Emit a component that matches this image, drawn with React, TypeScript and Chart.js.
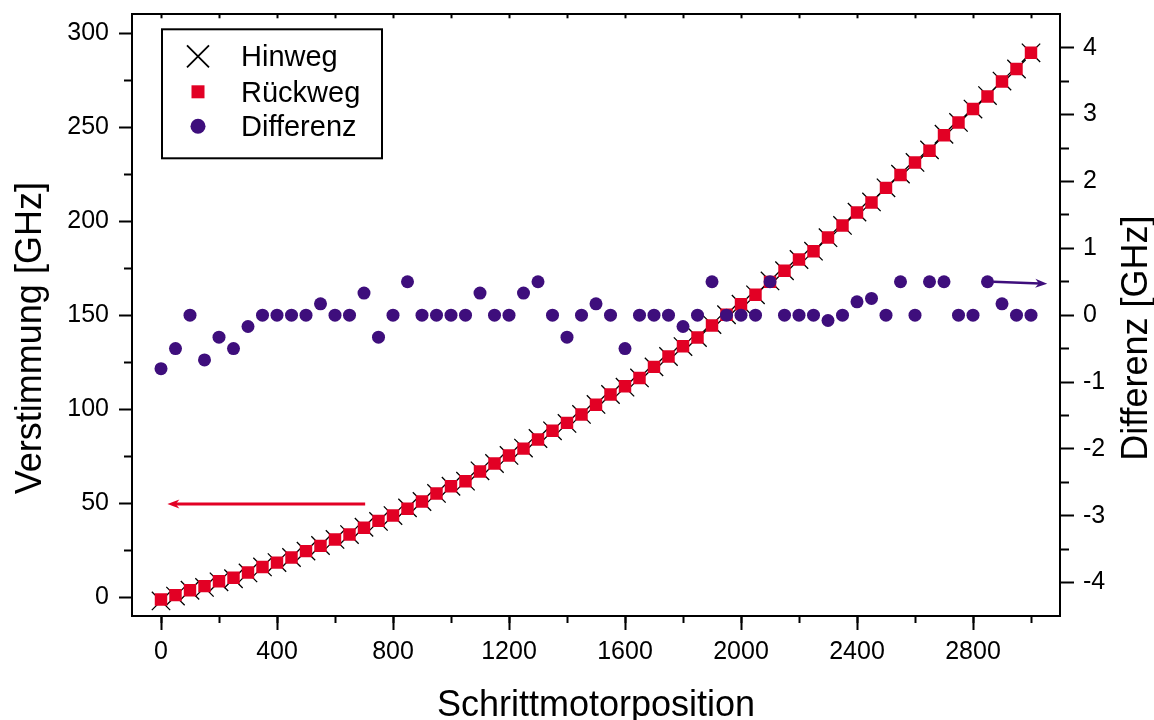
import { useEffect, useRef } from "react";
import { Chart, registerables } from "chart.js";

Chart.register(...registerables);

// Stepper motor positions (steps)
const positions = [
  0, 50, 100, 150, 200, 250, 300, 350, 400, 450, 500, 550, 600, 650, 700, 750,
  800, 850, 900, 950, 1000, 1050, 1100, 1150, 1200, 1250, 1300, 1350, 1400, 1450,
  1500, 1550, 1600, 1650, 1700, 1750, 1800, 1850, 1900, 1950, 2000, 2050, 2100,
  2150, 2200, 2250, 2300, 2350, 2400, 2450, 2500, 2550, 2600, 2650, 2700, 2750,
  2800, 2850, 2900, 2950, 3000,
];

// Detuning on the forward pass [GHz]
const hinweg = [
  -2.0, 0.6, 3.7, 5.2, 8.2, 9.8, 12.9, 16.1, 18.4, 21.1, 24.5, 27.5, 30.7, 33.3,
  37.2, 40.3, 43.4, 47.5, 50.9, 55.2, 59.0, 61.7, 67.2, 71.1, 75.4, 79.3, 84.4,
  88.5, 92.4, 97.2, 102.5, 107.8, 111.7, 116.6, 122.5, 128.0, 133.3, 138.1, 145.0,
  150.2, 155.8, 160.8, 168.2, 173.6, 179.6, 184.0, 191.2, 197.7, 204.8, 210.2,
  217.7, 225.0, 231.2, 237.9, 246.2, 252.5, 259.6, 266.8, 274.5, 280.9, 289.5,
];

// Detuning on the return pass [GHz]
const rueckweg = [
  -1.2, 1.1, 3.7, 5.9, 8.5, 10.3, 13.1, 16.1, 18.4, 21.1, 24.5, 27.3, 30.7, 33.3,
  36.9, 40.6, 43.4, 47.0, 50.9, 55.2, 59.0, 61.7, 66.9, 71.1, 75.4, 79.0, 83.9,
  88.5, 92.7, 97.2, 102.3, 107.8, 112.2, 116.6, 122.5, 128.0, 133.5, 138.1, 144.5,
  150.2, 155.8, 160.8, 167.7, 173.6, 179.6, 184.0, 191.3, 197.7, 204.6, 209.9,
  217.7, 224.5, 231.2, 237.4, 245.7, 252.5, 259.6, 266.3, 274.3, 280.9, 289.5,
];

// Difference between both passes [GHz]
const differenz = [
  -0.8, -0.5, 0, -0.67, -0.33, -0.5, -0.17, 0, 0, 0, 0, 0.17, 0, 0, 0.33, -0.33,
  0, 0.5, 0, 0, 0, 0, 0.33, 0, 0, 0.33, 0.5, 0, -0.33, 0, 0.17, 0, -0.5, 0, 0, 0,
  -0.17, 0, 0.5, 0, 0, 0, 0.5, 0, 0, 0, -0.08, 0, 0.2, 0.25, 0, 0.5, 0, 0.5, 0.5,
  0, 0, 0.5, 0.17, 0, 0,
];

// Axis ticks
const xMajorTicks = [0, 400, 800, 1200, 1600, 2000, 2400, 2800];
const xMinorTicks = [0, 200, 400, 600, 800, 1000, 1200, 1400, 1600, 1800, 2000, 2200, 2400, 2600, 2800, 3000];
const yMajorTicks = [0, 50, 100, 150, 200, 250, 300];
const yMinorTicks = [25, 75, 125, 175, 225, 275];
const y1MajorTicks = [-4, -3, -2, -1, 0, 1, 2, 3, 4];
const y1MinorTicks = [-3.5, -2.5, -1.5, -0.5, 0.5, 1.5, 2.5, 3.5];

const RED = "rgb(226,0,36)";
const PURPLE = "rgb(62,14,124)";
const FONT = "'Liberation Sans', Arial, Helvetica, sans-serif";

// Direction arrows pointing to the axis each series belongs to
const arrowLeft = { axis: "y", x0: 704, y0: 49.6, x1: 22, y1: 49.6, color: RED, width: 3 };
const arrowRight = { axis: "y1", x0: 2870, y0: 0.5, x1: 3056, y1: 0.47, color: PURPLE, width: 2.5 };

function fixedTicks(values: number[]) {
  return (scale: any) => {
    scale.ticks = values.map((v) => ({ value: v }));
  };
}

function fitSize(prop: "width" | "height", size: number) {
  return (scale: any) => {
    scale[prop] = size;
    scale.paddingTop = 0;
    scale.paddingBottom = 0;
    scale.paddingLeft = 0;
    scale.paddingRight = 0;
  };
}

function drawArrow(chart: any, a: any) {
  const ctx = chart.ctx;
  const xs = chart.scales.x;
  const ys = chart.scales[a.axis];
  const px0 = xs.getPixelForValue(a.x0);
  const py0 = ys.getPixelForValue(a.y0);
  const px1 = xs.getPixelForValue(a.x1);
  const py1 = ys.getPixelForValue(a.y1);
  const ang = Math.atan2(py1 - py0, px1 - px0);
  const headLen = 12;
  const headHalf = 4.5;
  ctx.save();
  ctx.strokeStyle = a.color;
  ctx.fillStyle = a.color;
  ctx.lineWidth = a.width;
  ctx.beginPath();
  ctx.moveTo(px0, py0);
  ctx.lineTo(px1 - Math.cos(ang) * headLen * 0.6, py1 - Math.sin(ang) * headLen * 0.6);
  ctx.stroke();
  ctx.translate(px1, py1);
  ctx.rotate(ang);
  ctx.beginPath();
  ctx.moveTo(0, 0);
  ctx.lineTo(-headLen, -headHalf);
  ctx.lineTo(-headLen * 0.7, 0);
  ctx.lineTo(-headLen, headHalf);
  ctx.closePath();
  ctx.fill();
  ctx.restore();
}

const annotationsPlugin = {
  id: "annotations",
  afterDatasetsDraw(chart: any) {
    drawArrow(chart, arrowLeft);
    drawArrow(chart, arrowRight);

    // Framed legend in the upper left corner of the plot
    const ctx = chart.ctx;
    const { left, top } = chart.chartArea;
    const bx = left + 30;
    const by = top + 15;
    ctx.save();
    ctx.fillStyle = "#fff";
    ctx.fillRect(bx, by, 220, 129);
    ctx.strokeStyle = "#000";
    ctx.lineWidth = 2;
    ctx.strokeRect(bx, by, 220, 129);

    const mx = bx + 36;
    const rows = [by + 27, by + 62.5, by + 97];
    const labels = chart.data.datasets.map((d: any) => d.label);

    // cross
    ctx.lineWidth = 1.8;
    ctx.strokeStyle = "#000";
    ctx.beginPath();
    ctx.moveTo(mx - 11, rows[0] - 11);
    ctx.lineTo(mx + 11, rows[0] + 11);
    ctx.moveTo(mx + 11, rows[0] - 11);
    ctx.lineTo(mx - 11, rows[0] + 11);
    ctx.stroke();
    // square
    ctx.fillStyle = RED;
    ctx.fillRect(mx - 6.5, rows[1] - 6.5, 13, 13);
    // circle
    ctx.fillStyle = PURPLE;
    ctx.beginPath();
    ctx.arc(mx, rows[2], 7.5, 0, Math.PI * 2);
    ctx.fill();

    ctx.fillStyle = "#000";
    ctx.font = `29px ${FONT}`;
    ctx.textAlign = "left";
    ctx.textBaseline = "alphabetic";
    labels.forEach((t: string, i: number) => {
      ctx.fillText(t, bx + 79, rows[i] + 10);
    });
    ctx.restore();
  },
};

const axisTitlesPlugin = {
  id: "axisTitles",
  afterDraw(chart: any) {
    const ctx = chart.ctx;
    const { left, right, top, bottom } = chart.chartArea;
    ctx.save();
    ctx.fillStyle = "#000";
    ctx.font = `36px ${FONT}`;
    ctx.textAlign = "center";
    ctx.textBaseline = "alphabetic";
    ctx.fillText("Schrittmotorposition", (left + right) / 2, bottom + 100);

    const cy = (top + bottom) / 2 + 23;
    ctx.save();
    ctx.translate(41, cy);
    ctx.rotate(-Math.PI / 2);
    ctx.fillText("Verstimmung [GHz]", 0, 0);
    ctx.restore();

    ctx.save();
    ctx.translate(1147, cy);
    ctx.rotate(-Math.PI / 2);
    ctx.fillText("Differenz [GHz]", 0, 0);
    ctx.restore();
    ctx.restore();
  },
};

function axisBase(min: number, max: number) {
  return {
    type: "linear" as const,
    min,
    max,
  };
}

export default function App() {
  const canvasRef = useRef<HTMLCanvasElement | null>(null);

  useEffect(() => {
    if (!canvasRef.current) return;
    const tickFont = { family: FONT, size: 25 };
    const plain = (v: any) => String(v);

    const chart = new Chart(canvasRef.current, {
      type: "scatter",
      data: {
        datasets: [
          {
            label: "Hinweg",
            data: positions.map((x, i) => ({ x, y: hinweg[i] })),
            xAxisID: "x",
            yAxisID: "y",
            pointStyle: "crossRot",
            pointRadius: 13,
            pointBorderColor: "#000",
            pointBackgroundColor: "#000",
            pointBorderWidth: 1.3,
            showLine: false,
            order: 3,
          },
          {
            label: "Rückweg",
            data: positions.map((x, i) => ({ x, y: rueckweg[i] })),
            xAxisID: "x",
            yAxisID: "y",
            pointStyle: "rect",
            pointRadius: 8.8,
            pointBackgroundColor: RED,
            pointBorderColor: RED,
            pointBorderWidth: 0,
            showLine: false,
            order: 2,
          },
          {
            label: "Differenz",
            data: positions.map((x, i) => ({ x, y: differenz[i] })),
            xAxisID: "x",
            yAxisID: "y1",
            pointStyle: "circle",
            pointRadius: 6.5,
            pointBackgroundColor: PURPLE,
            pointBorderColor: PURPLE,
            pointBorderWidth: 0,
            showLine: false,
            order: 1,
          },
        ],
      },
      options: {
        responsive: false,
        animation: false,
        events: [],
        layout: { padding: 0 },
        plugins: { legend: { display: false }, tooltip: { enabled: false } },
        scales: {
          x: {
            ...axisBase(-100, 3100),
            position: "bottom",
            weight: 1,
            afterBuildTicks: fixedTicks(xMajorTicks),
            afterFit: fitSize("height", 104),
            ticks: { font: tickFont, color: "#000", padding: 7, maxRotation: 0, autoSkip: false, callback: plain },
            grid: { drawOnChartArea: false, tickWidth: 2, tickColor: "#000", tickLength: 14 },
            border: { display: true, color: "#000", width: 2 },
          },
          xMinor: {
            ...axisBase(-100, 3100),
            position: "bottom",
            weight: 0,
            afterBuildTicks: fixedTicks(xMinorTicks),
            afterFit: fitSize("height", 0),
            ticks: { display: false },
            grid: { drawOnChartArea: false, tickWidth: 2, tickColor: "#000", tickLength: 7 },
            border: { display: false },
          },
          xTop: {
            ...axisBase(-100, 3100),
            position: "top",
            afterBuildTicks: fixedTicks(xMinorTicks),
            afterFit: fitSize("height", 13),
            ticks: { display: false },
            grid: { drawOnChartArea: false, tickWidth: 2, tickColor: "#000", tickLength: -4 },
            border: { display: true, color: "#000", width: 2 },
          },
          y: {
            ...axisBase(-10, 310),
            position: "left",
            weight: 1,
            afterBuildTicks: fixedTicks(yMajorTicks),
            afterFit: fitSize("width", 132),
            ticks: { font: tickFont, color: "#000", padding: 10, callback: plain },
            grid: { drawOnChartArea: false, tickWidth: 2, tickColor: "#000", tickLength: 13 },
            border: { display: true, color: "#000", width: 2 },
          },
          yMinor: {
            ...axisBase(-10, 310),
            position: "left",
            weight: 0,
            afterBuildTicks: fixedTicks(yMinorTicks),
            afterFit: fitSize("width", 0),
            ticks: { display: false },
            grid: { drawOnChartArea: false, tickWidth: 2, tickColor: "#000", tickLength: 8 },
            border: { display: false },
          },
          y1: {
            ...axisBase(-4.5, 4.5),
            position: "right",
            weight: 1,
            afterBuildTicks: fixedTicks(y1MajorTicks),
            afterFit: fitSize("width", 94),
            ticks: { font: tickFont, color: "#000", padding: 9, callback: plain },
            grid: { drawOnChartArea: false, tickWidth: 2, tickColor: "#000", tickLength: 14 },
            border: { display: true, color: "#000", width: 2 },
          },
          y1Minor: {
            ...axisBase(-4.5, 4.5),
            position: "right",
            weight: 0,
            afterBuildTicks: fixedTicks(y1MinorTicks),
            afterFit: fitSize("width", 0),
            ticks: { display: false },
            grid: { drawOnChartArea: false, tickWidth: 2, tickColor: "#000", tickLength: 9 },
            border: { display: false },
          },
        },
      },
      plugins: [annotationsPlugin, axisTitlesPlugin],
    });

    return () => chart.destroy();
  }, []);

  return (
    <canvas
      ref={canvasRef}
      width={1154}
      height={720}
      style={{ position: "fixed", left: 0, top: 0, width: 1154, height: 720, background: "#fff" }}
    />
  );
}
